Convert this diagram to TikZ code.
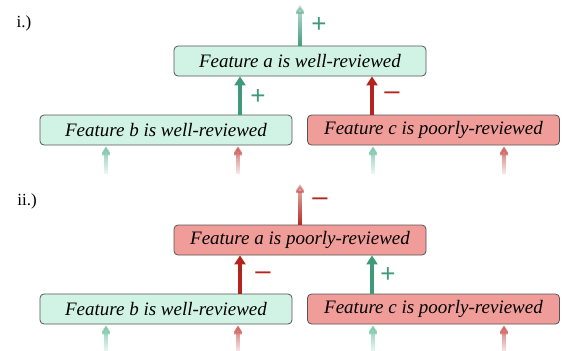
\documentclass[tikz,border=0pt]{standalone}
\usepackage{fontspec}
\setmainfont{Liberation Serif}
\newfontfamily\signfont{Liberation Sans}
\usetikzlibrary{arrows.meta,fadings}
\definecolor{gfill}{HTML}{D0F3E6}
\definecolor{rfill}{HTML}{F09C98}
\definecolor{garr}{HTML}{3E9A78}
\definecolor{rarr}{HTML}{B3241D}
\definecolor{gsoft}{HTML}{7CC6AB}
\definecolor{rsoft}{HTML}{CC625D}
\definecolor{bord}{HTML}{555555}
\tikzfading[name=fadeup, bottom color=transparent!0, top color=transparent!72]
\tikzfading[name=fadedown, top color=transparent!0, middle color=transparent!15, bottom color=transparent!92]
\begin{document}
\begin{tikzpicture}[x=1pt,y=-1pt,
  fbox/.style={draw=bord, line width=0.8pt, rounded corners=4pt, minimum width=252pt,
    minimum height=30pt, inner sep=0pt, font=\fontsize{19}{22}\selectfont\itshape},
  good/.style={fbox, fill=gfill},
  bad/.style={fbox, fill=rfill},
  link/.style={line width=3.8pt, -{Triangle[width=11pt,length=9pt]}},
  faint/.style={line width=3.6pt, -{Triangle[width=11pt,length=9pt]}, shorten >=1pt, path fading=fadedown},
  sign/.style={font=\signfont\fontsize{26}{26}\selectfont, inner sep=0pt},
  panel/.style={font=\fontsize{17}{20}\selectfont, inner sep=0pt}]
\useasboundingbox (0,0) rectangle (566,351);
% x positions
\coordinate (xab) at (240,0);
\coordinate (xac) at (372,0);
% ---------- panel i
\node[panel] (lab1) at (24,23) {i.)};
\node[good] (a1) at (300,61) {Feature a is well-reviewed};
\node[good] (b1) at (166,130) {Feature b is well-reviewed};
\node[bad]  (c1) at (433.5,130) {Feature c is poorly-reviewed};
\coordinate (ta1) at (300,5);
\draw[link, garr, path fading=fadeup] (a1.north) -- (ta1);
\node[sign, garr] (s1) at (319,25) {+};
\draw[link, garr] (b1.north -| xab) -- (a1.south -| xab);
\node[sign, garr] (s2) at (258,97) {+};
\draw[link, rarr] (c1.north -| xac) -- (a1.south -| xac);
\node[sign, rarr, xscale=1.2] (s3) at (392,97) {−};
\coordinate (t11) at (106,174);
\coordinate (t12) at (238,174);
\coordinate (t13) at (373,174);
\coordinate (t14) at (504,174);
\draw[faint, gsoft] (t11) -- (b1.south -| t11);
\draw[faint, rsoft] (t12) -- (b1.south -| t12);
\draw[faint, gsoft] (t13) -- (c1.south -| t13);
\draw[faint, rsoft] (t14) -- (c1.south -| t14);
% ---------- panel ii
\node[panel] (lab2) at (27,201) {ii.)};
\node[bad]  (a2) at (300,240) {Feature a is poorly-reviewed};
\node[good] (b2) at (166,309) {Feature b is well-reviewed};
\node[bad]  (c2) at (433.5,309) {Feature c is poorly-reviewed};
\coordinate (ta2) at (300,184);
\draw[link, rarr, path fading=fadeup] (a2.north) -- (ta2);
\node[sign, rarr, xscale=1.2] (s4) at (320,203) {−};
\draw[link, rarr] (b2.north -| xab) -- (a2.south -| xab);
\node[sign, rarr, xscale=1.2] (s5) at (263,277) {−};
\draw[link, garr] (c2.north -| xac) -- (a2.south -| xac);
\node[sign, garr] (s6) at (388,275) {+};
\coordinate (t21) at (106,352);
\coordinate (t22) at (238,352);
\coordinate (t23) at (373,352);
\coordinate (t24) at (504,352);
\draw[faint, gsoft] (t21) -- (b2.south -| t21);
\draw[faint, rsoft] (t22) -- (b2.south -| t22);
\draw[faint, gsoft] (t23) -- (c2.south -| t23);
\draw[faint, rsoft] (t24) -- (c2.south -| t24);
\end{tikzpicture}
\end{document}
